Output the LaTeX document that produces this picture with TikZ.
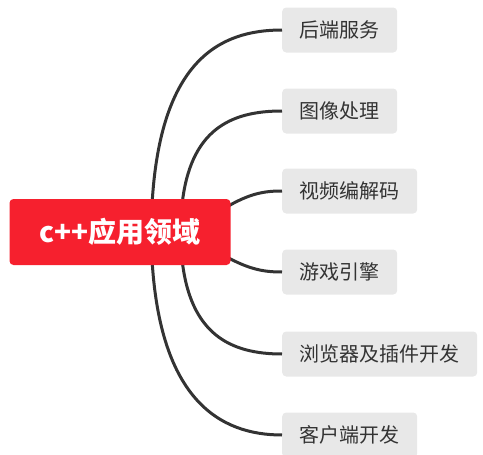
\documentclass[tikz,border=0pt]{standalone}
\usepackage{fontspec}
\usepackage{tikz}
\usetikzlibrary{calc}
\newfontfamily\cjk{Noto Sans CJK SC}
\definecolor{ink}{HTML}{333333}
\definecolor{rootred}{HTML}{F6202E}
\definecolor{leafgrey}{HTML}{E8E8E8}

\begin{document}
\begin{tikzpicture}[x=1pt,y=-1pt,
              root/.style={rectangle,rounded corners=4pt,fill=rootred,text=white,
                minimum width=221pt,minimum height=66pt,inner sep=0,
                font=\cjk\fontsize{28}{28}\selectfont\bfseries},
              leaf/.style={rectangle,rounded corners=4pt,fill=leafgrey,text=ink,
                anchor=west,minimum height=45pt,inner xsep=17.5pt,inner ysep=0,
                font=\cjk\fontsize{20}{20}\selectfont},
              branch/.style={draw=ink,line width=3pt}]
              \useasboundingbox (0,0) rectangle (483,455);
              \node[leaf] (l1) at (282,30) {后端服务};
              \node[leaf] (l2) at (282,111) {图像处理};
              \node[leaf] (l3) at (282,191) {视频编解码};
              \node[leaf] (l4) at (282,272) {游戏引擎};
              \node[leaf] (l5) at (282,354) {浏览器及插件开发};
              \node[leaf] (l6) at (282,435) {客户端开发};
              % branches start under the root box
              \coordinate (s1) at (152,205);
              \coordinate (s2) at (182,205);
              \coordinate (s3) at (225,208);
              \coordinate (s4) at (225,256);
              \coordinate (s5) at (182,259);
              \coordinate (s6) at (152,259);
              \draw[branch] (s1) .. controls (160,60) and (220,30) .. (l1.west);
              \draw[branch] (s2) .. controls (190,130) and (230,111) .. (l2.west);
              \draw[branch] (s3) .. controls (250,193) and (265,191) .. (l3.west);
              \draw[branch] (s4) .. controls (250,270) and (265,272) .. (l4.west);
              \draw[branch] (s5) .. controls (190,334) and (230,354) .. (l5.west);
              \draw[branch] (s6) .. controls (160,400) and (220,435) .. (l6.west);
              \node[root] (root) at (120,232) {c++应用领域};
            \end{tikzpicture}
\end{document}
